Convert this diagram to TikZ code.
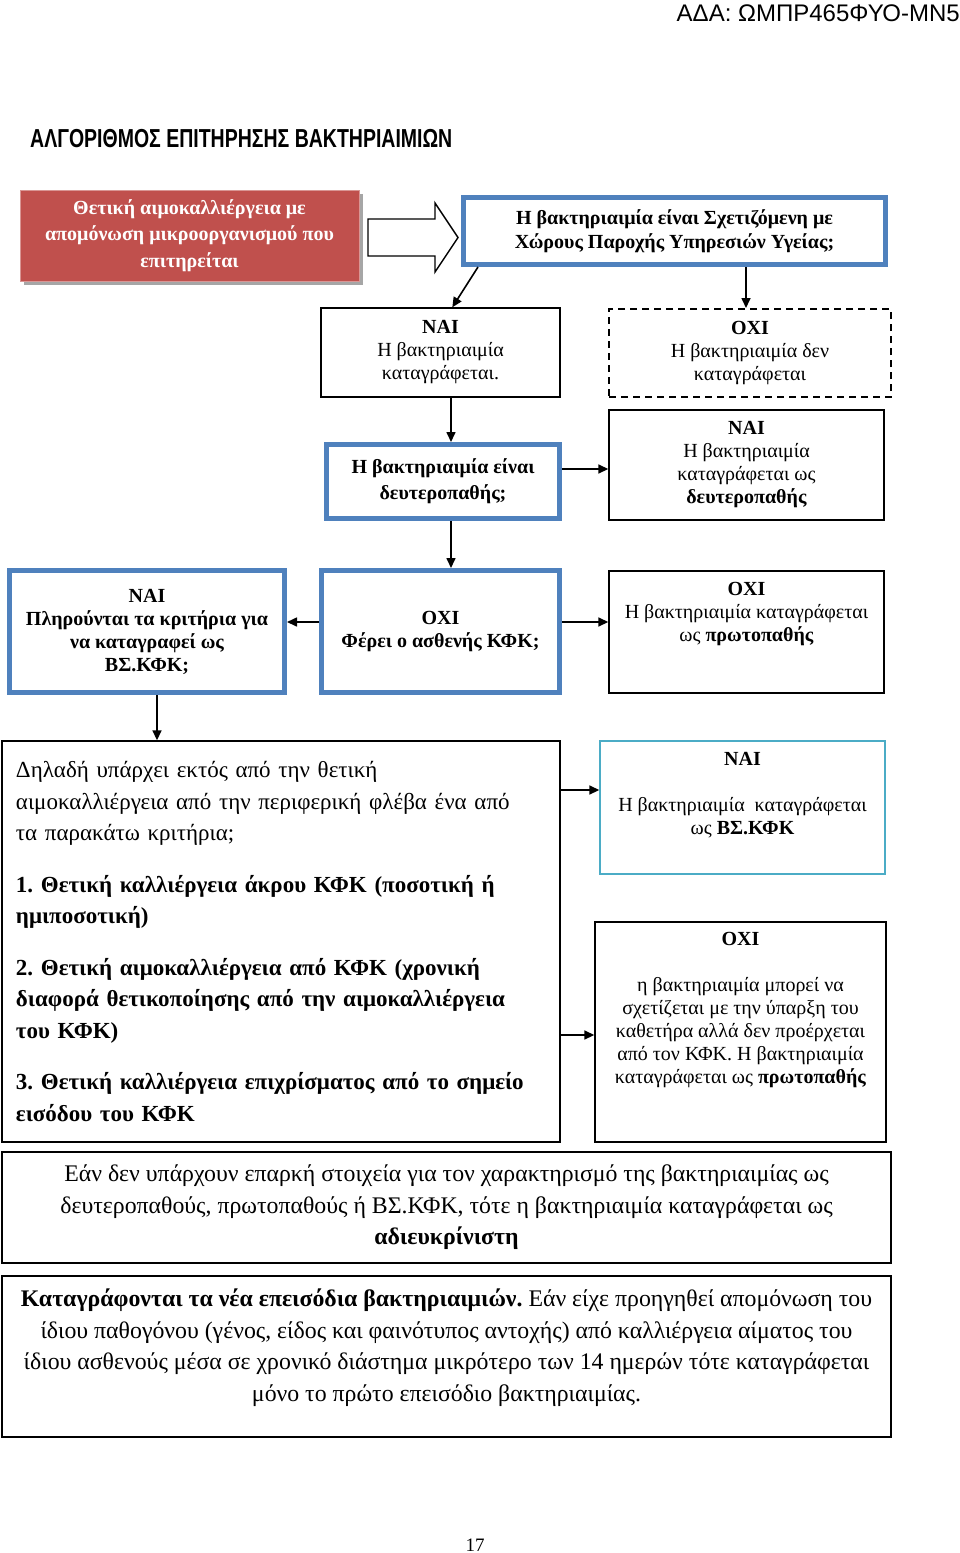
\documentclass[tikz,border=0pt]{standalone}
\usepackage{fontspec}
\setmainfont{Liberation Serif}
\newfontfamily\headsans{Liberation Sans}
\newfontfamily\narrowsans[FakeStretch=0.75]{Liberation Sans}
\usetikzlibrary{arrows.meta,shadows}
\definecolor{redfill}{HTML}{C0504D}
\definecolor{blueline}{HTML}{4F81BD}
\definecolor{cyanline}{HTML}{4BACC6}
\frenchspacing
\begin{document}
\begin{tikzpicture}[x=1pt,y=-1pt,
  >={Triangle[length=10pt,width=9pt]},
  link/.style={->, line width=1.6pt},
  box/.style={draw, line width=1.4pt, inner sep=0pt, align=center,
    font=\fontsize{20}{23}\selectfont},
  bluebox/.style={box, draw=blueline, line width=5pt},
  bigtext/.style={font=\fontsize{23.8}{31.5}\selectfont}]
  \useasboundingbox (0,0) rectangle (960,1553);
  % header and title
  \node (ada) [anchor=base east, inner sep=0pt, font=\headsans\fontsize{24}{24}\selectfont]
    at (960,21) {ΑΔΑ: ΩΜΠΡ465ΦΥΟ-ΜΝ5};
  \node (title) [anchor=base west, inner sep=0pt, font=\narrowsans\bfseries\fontsize{26}{26}\selectfont]
    at (30,147) {ΑΛΓΟΡΙΘΜΟΣ ΕΠΙΤΗΡΗΣΗΣ ΒΑΚΤΗΡΙΑΙΜΙΩΝ};
  % first row
  \node (pos) [box, draw=redfill!60!white, line width=1pt, fill=redfill, text=white,
    font=\bfseries\fontsize{20}{26.5}\selectfont, minimum width=339, minimum height=91,
    drop shadow={shadow xshift=4pt, shadow yshift=-4pt, fill=black!35, opacity=1}]
    at (189.5,235.5) {Θετική αιμοκαλλιέργεια με\\ απομόνωση μικροοργανισμού που\\ επιτηρείται};
  \draw [line width=1.4pt] (368,219) -- (435,219) -- (435,203) -- (458,237.5)
    -- (435,272) -- (435,256) -- (368,256) -- cycle;
  \node (q1) [bluebox, font=\bfseries\fontsize{20}{24}\selectfont, minimum width=422, minimum height=67]
    at (674.5,231) {Η βακτηριαιμία είναι Σχετιζόμενη με\\ Χώρους Παροχής Υπηρεσιών Υγείας;};
  % second row
  \node (nai1) [box, minimum width=239, minimum height=89] at (440.5,352.5)
    {\textbf{ΝΑΙ}\\ Η βακτηριαιμία\\ καταγράφεται.};
  \node (oxi1) [box, dashed, dash pattern=on 7pt off 5pt, line width=2pt, minimum width=282, minimum height=88]
    at (750,353) {\textbf{ΟΧΙ}\\ Η βακτηριαιμία δεν\\ καταγράφεται};
  \node (q2) [bluebox, font=\bfseries\fontsize{20}{26}\selectfont, minimum width=233, minimum height=74]
    at (443,481.5) {Η βακτηριαιμία είναι\\ δευτεροπαθής;};
  \node (sec) [box, minimum width=275, minimum height=110] at (746.5,465)
    {\textbf{ΝΑΙ}\\ Η βακτηριαιμία\\ καταγράφεται ως\\ \textbf{δευτεροπαθής}};
  % third row
  \node (crit) [bluebox, font=\bfseries\fontsize{20}{23}\selectfont, minimum width=275, minimum height=122]
    at (147,631.5) {ΝΑΙ\\ Πληρούνται τα κριτήρια για\\ να καταγραφεί ως\\ ΒΣ.ΚΦΚ;};
  \node (kfk) [bluebox, font=\bfseries\fontsize{20}{23}\selectfont, minimum width=238, minimum height=122]
    at (440.5,631.5) {ΟΧΙ\\ Φέρει ο ασθενής ΚΦΚ;};
  \node (prim) [box, text depth=41pt, minimum width=275, minimum height=122] at (746.5,632)
    {\textbf{ΟΧΙ}\\ Η βακτηριαιμία καταγράφεται\\ ως \textbf{πρωτοπαθής}};
  % criteria
  \node (list) [box, font=\fontsize{23}{31.5}\selectfont, align=left, text width=530,
    minimum width=558, minimum height=401]
    at (281,941.5) {Δηλαδή υπάρχει εκτός από την θετική\\
    αιμοκαλλιέργεια από την περιφερική φλέβα ένα από\\
    τα παρακάτω κριτήρια;\\[20pt]
    \textbf{1. Θετική καλλιέργεια άκρου ΚΦΚ (ποσοτική ή}\\
    \textbf{ημιποσοτική)}\\[20pt]
    \textbf{2. Θετική αιμοκαλλιέργεια από ΚΦΚ (χρονική}\\
    \textbf{διαφορά θετικοποίησης από την αιμοκαλλιέργεια}\\
    \textbf{του ΚΦΚ)}\\[20pt]
    \textbf{3. Θετική καλλιέργεια επιχρίσματος από το σημείο}\\
    \textbf{εισόδου του ΚΦΚ}};
  \node (bsk) [box, draw=cyanline, text depth=29pt, minimum width=285, minimum height=133]
    at (742.5,807.5) {\textbf{ΝΑΙ}\\[23pt] Η βακτηριαιμία\ \ καταγράφεται\\ ως \textbf{ΒΣ.ΚΦΚ}};
  \node (oxi2) [box, text depth=49pt, minimum width=291, minimum height=220] at (740.5,1032)
    {\textbf{ΟΧΙ}\\[23pt] η βακτηριαιμία μπορεί να\\ σχετίζεται με την ύπαρξη του\\
    καθετήρα αλλά δεν προέρχεται\\ από τον ΚΦΚ. Η βακτηριαιμία\\
    καταγράφεται ως \textbf{πρωτοπαθής}};
  % notes
  \node (undef) [box, bigtext, minimum width=889, minimum height=111] at (446.5,1207.5)
    {Εάν δεν υπάρχουν επαρκή στοιχεία για τον χαρακτηρισμό της βακτηριαιμίας ως\\
    δευτεροπαθούς, πρωτοπαθούς ή ΒΣ.ΚΦΚ, τότε η βακτηριαιμία καταγράφεται ως\\
    \textbf{αδιευκρίνιστη}};
  \node (episode) [box, bigtext, text depth=23pt, minimum width=889, minimum height=161] at (446.5,1356.5)
    {\textbf{Καταγράφονται τα νέα επεισόδια βακτηριαιμιών.} Εάν είχε προηγηθεί απομόνωση του\\
    ίδιου παθογόνου (γένος, είδος και φαινότυπος αντοχής) από καλλιέργεια αίματος του\\
    ίδιου ασθενούς μέσα σε χρονικό διάστημα μικρότερο των 14 ημερών τότε καταγράφεται\\
    μόνο το πρώτο επεισόδιο βακτηριαιμίας.};
  \node (page) [anchor=base, inner sep=0pt, font=\fontsize{19}{19}\selectfont] at (475,1551) {17};
  % arrows
  \draw [link] ([xshift=17pt]q1.south west) -- ([xshift=132pt]nai1.north west);
  \draw [link] ([xshift=-4pt]oxi1.north |- q1.south) -- ([xshift=-4pt]oxi1.north);
  \draw [link] ([xshift=10.5pt]nai1.south) -- ([xshift=10.5pt]nai1.south |- q2.north);
  \draw [link] ([yshift=12.5pt]q2.east) -- ([yshift=12.5pt]q2.east -| sec.west);
  \draw [link] ([xshift=8pt]q2.south) -- ([xshift=8pt]q2.south |- kfk.north);
  \draw [link] ([yshift=9.5pt]kfk.west) -- ([yshift=9.5pt]kfk.west -| crit.east);
  \draw [link] ([yshift=9.5pt]kfk.east) -- ([yshift=9.5pt]kfk.east -| prim.west);
  \draw [link] ([xshift=10pt]crit.south) -- ([xshift=10pt]crit.south |- list.north);
  \draw [link] ([yshift=151.5pt]list.east) -- ([yshift=151.5pt]list.east -| bsk.west);
  \draw [link] ([yshift=-93.5pt]list.east) -- ([yshift=-93.5pt]list.east -| oxi2.west);
\end{tikzpicture}
\end{document}
